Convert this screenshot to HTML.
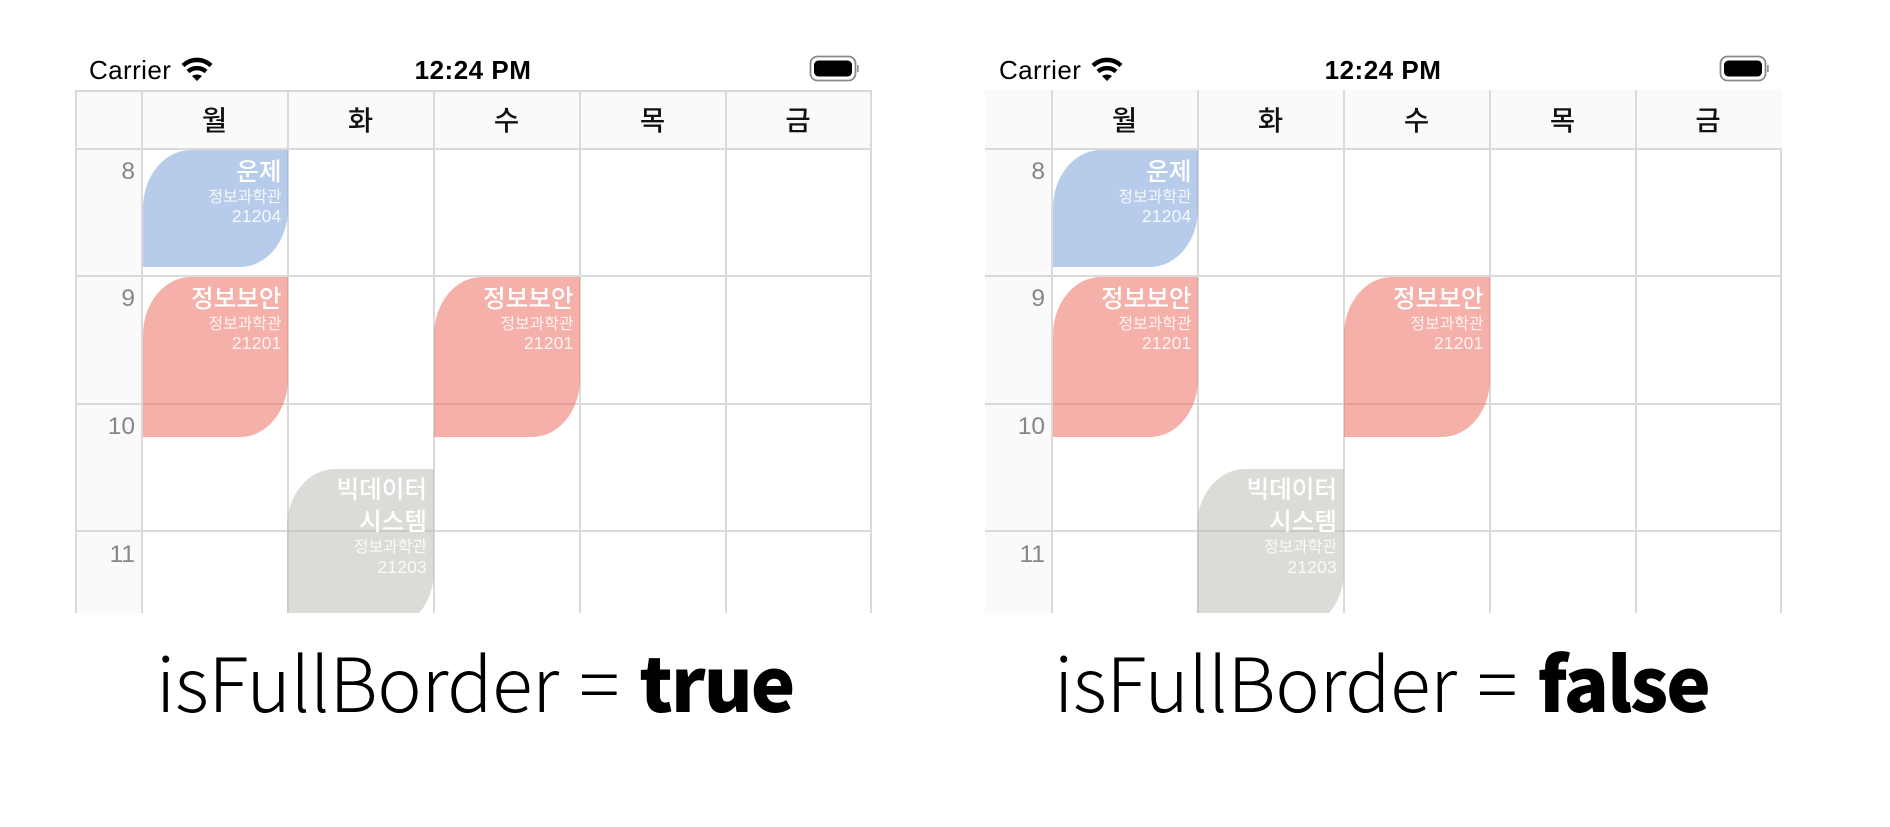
<!DOCTYPE html>
<html lang="ko">
<head>
<meta charset="utf-8">
<title>isFullBorder comparison</title>
<style>
html,body{margin:0;padding:0;background:#fff;}
#stage{position:relative;width:1890px;height:827px;overflow:hidden;background:#fff;font-family:"Liberation Sans","Noto Sans CJK KR",sans-serif;}
.panel{position:absolute;left:0;top:0;width:945px;height:827px;}
.panel.right{left:910px;}
.grid{position:absolute;left:0;top:0;width:945px;height:613px;overflow:hidden;}
.fill{position:absolute;background:#fafafa;}
.v,.h{position:absolute;background:#dadada;}
.v{width:2px;}
.h{height:2px;}
.abs{position:absolute;white-space:nowrap;}
.day{position:absolute;top:93px;width:100px;height:52px;text-align:center;font:500 27.5px/50px "Noto Sans CJK KR",sans-serif;color:#111;}
.hour{position:absolute;left:76px;width:59px;text-align:right;font:400 24.5px/28px "Liberation Sans",sans-serif;color:#868686;}
.block{position:absolute;border-radius:48px 0 48px 0 / 58px 0 58px 0;}
.blue{background:rgba(111,153,215,.5);}
.red{background:rgba(237,97,85,.5);}
.gray{background:rgba(183,185,177,.5);}
.ttl,.sub,.num{position:absolute;right:6.5px;white-space:nowrap;color:#fff;text-align:right;}
.ttl{font:500 24.6px/30px "Noto Sans CJK KR",sans-serif;}
.sub{font:400 16px/20px "Noto Sans CJK KR",sans-serif;color:rgba(255,255,255,.85);letter-spacing:-.1px;}
.num{font:400 17.5px/20px "Liberation Sans",sans-serif;color:rgba(255,255,255,.85);letter-spacing:.2px;}
.overlay{position:absolute;}
.carrier{position:absolute;left:89px;top:54px;font:400 26px/32px "Liberation Sans",sans-serif;letter-spacing:.4px;color:#000;}
.time{position:absolute;left:373px;width:200px;text-align:center;top:54px;font:700 26px/32px "Liberation Sans",sans-serif;letter-spacing:.5px;color:#000;}
.cap{position:absolute;top:625px;font:300 75px/110px "Noto Sans CJK KR",sans-serif;color:#000;white-space:nowrap;letter-spacing:-.4px;}
.cap b{font-weight:900;letter-spacing:-2px;}
</style>
</head>
<body>
<div id="stage">

<!-- LEFT PANEL -->
<div class="panel">
  <div class="carrier">Carrier</div>
  <svg class="abs" style="left:179px;top:56px" width="36" height="27" viewBox="0 0 36 27">
    <path d="M4 9.5 C12 2 24 2 32 9.5" fill="none" stroke="#000" stroke-width="4.4"/>
    <path d="M9 15.5 C14 11 22 11 27 15.5" fill="none" stroke="#000" stroke-width="4.4"/>
    <path d="M13 20 C16 18 20 18 23 20 L18 25 Z" fill="#000"/>
  </svg>
  <div class="time">12:24 PM</div>
  <svg class="abs" style="left:809px;top:55px" width="52" height="28" viewBox="0 0 52 28">
    <rect x="1.5" y="1.5" width="45" height="24" rx="7" fill="none" stroke="#8a8a8a" stroke-width="1.8"/>
    <rect x="5" y="5.5" width="38" height="16" rx="4.5" fill="#000"/>
    <rect x="48" y="10" width="1.8" height="7" fill="#9a9a9a"/>
  </svg>

  <div class="grid">
    <div class="fill" style="left:76px;top:91px;width:795px;height:57px"></div>
    <div class="fill" style="left:76px;top:148px;width:66px;height:465px"></div>

    <div class="h" style="left:75px;top:90px;width:797px"></div>
    <div class="h" style="left:75px;top:147.5px;width:797px"></div>
    <div class="h" style="left:75px;top:275px;width:797px"></div>
    <div class="h" style="left:75px;top:402.5px;width:797px"></div>
    <div class="h" style="left:75px;top:530px;width:797px"></div>
    <div class="v" style="left:75px;top:90px;height:523px"></div>
    <div class="v" style="left:141px;top:90px;height:523px"></div>
    <div class="v" style="left:286.7px;top:90px;height:523px"></div>
    <div class="v" style="left:432.5px;top:90px;height:523px"></div>
    <div class="v" style="left:579px;top:90px;height:523px"></div>
    <div class="v" style="left:725px;top:90px;height:523px"></div>
    <div class="v" style="left:870px;top:90px;height:523px"></div>

    <div class="day" style="left:164.5px">월</div>
    <div class="day" style="left:310.5px">화</div>
    <div class="day" style="left:456.5px">수</div>
    <div class="day" style="left:602.5px">목</div>
    <div class="day" style="left:748px">금</div>

    <div class="hour" style="top:158px">8</div>
    <div class="hour" style="top:285px">9</div>
    <div class="hour" style="top:413px">10</div>
    <div class="hour" style="top:541px">11</div>

    <div class="block blue" style="left:143px;top:150px;width:145px;height:117px"></div>
    <div class="block red" style="left:143px;top:277px;width:145px;height:160px"></div>
    <div class="block red" style="left:434px;top:277px;width:146px;height:160px"></div>
    <div class="block gray" style="left:287px;top:469px;width:147px;height:160px"></div>

    <div class="overlay" style="left:143px;top:150px;width:145px;height:117px">
      <div class="ttl" style="top:5px">운제</div>
      <div class="sub" style="top:34.5px">정보과학관</div>
      <div class="num" style="top:56px">21204</div>
    </div>
    <div class="overlay" style="left:143px;top:277px;width:145px;height:160px">
      <div class="ttl" style="top:5px">정보보안</div>
      <div class="sub" style="top:34.5px">정보과학관</div>
      <div class="num" style="top:56px">21201</div>
    </div>
    <div class="overlay" style="left:434px;top:277px;width:146px;height:160px">
      <div class="ttl" style="top:5px">정보보안</div>
      <div class="sub" style="top:34.5px">정보과학관</div>
      <div class="num" style="top:56px">21201</div>
    </div>
    <div class="overlay" style="left:287px;top:469px;width:146.5px;height:160px">
      <div class="ttl" style="top:3.5px">빅데이터</div>
      <div class="ttl" style="top:35.5px">시스템</div>
      <div class="sub" style="top:66px">정보과학관</div>
      <div class="num" style="top:88px">21203</div>
    </div>
  </div>

  <div class="cap" style="left:156px">isFullBorder = <b>true</b></div>
</div>

<!-- RIGHT PANEL -->
<div class="panel right">
  <div class="carrier">Carrier</div>
  <svg class="abs" style="left:179px;top:56px" width="36" height="27" viewBox="0 0 36 27">
    <path d="M4 9.5 C12 2 24 2 32 9.5" fill="none" stroke="#000" stroke-width="4.4"/>
    <path d="M9 15.5 C14 11 22 11 27 15.5" fill="none" stroke="#000" stroke-width="4.4"/>
    <path d="M13 20 C16 18 20 18 23 20 L18 25 Z" fill="#000"/>
  </svg>
  <div class="time">12:24 PM</div>
  <svg class="abs" style="left:809px;top:55px" width="52" height="28" viewBox="0 0 52 28">
    <rect x="1.5" y="1.5" width="45" height="24" rx="7" fill="none" stroke="#8a8a8a" stroke-width="1.8"/>
    <rect x="5" y="5.5" width="38" height="16" rx="4.5" fill="#000"/>
    <rect x="48" y="10" width="1.8" height="7" fill="#9a9a9a"/>
  </svg>

  <div class="grid">
    <div class="fill" style="left:75px;top:90px;width:797px;height:58px"></div>
    <div class="fill" style="left:75px;top:148px;width:67px;height:465px"></div>

    <div class="h" style="left:75px;top:147.5px;width:797px"></div>
    <div class="h" style="left:75px;top:275px;width:797px"></div>
    <div class="h" style="left:75px;top:402.5px;width:797px"></div>
    <div class="h" style="left:75px;top:530px;width:797px"></div>
    <div class="v" style="left:141px;top:90px;height:523px"></div>
    <div class="v" style="left:286.7px;top:90px;height:523px"></div>
    <div class="v" style="left:432.5px;top:90px;height:523px"></div>
    <div class="v" style="left:579px;top:90px;height:523px"></div>
    <div class="v" style="left:725px;top:90px;height:523px"></div>
    <div class="v" style="left:870px;top:148px;height:465px"></div>

    <div class="day" style="left:164.5px">월</div>
    <div class="day" style="left:310.5px">화</div>
    <div class="day" style="left:456.5px">수</div>
    <div class="day" style="left:602.5px">목</div>
    <div class="day" style="left:748px">금</div>

    <div class="hour" style="top:158px">8</div>
    <div class="hour" style="top:285px">9</div>
    <div class="hour" style="top:413px">10</div>
    <div class="hour" style="top:541px">11</div>

    <div class="block blue" style="left:143px;top:150px;width:145px;height:117px"></div>
    <div class="block red" style="left:143px;top:277px;width:145px;height:160px"></div>
    <div class="block red" style="left:434px;top:277px;width:146px;height:160px"></div>
    <div class="block gray" style="left:287px;top:469px;width:147px;height:160px"></div>

    <div class="overlay" style="left:143px;top:150px;width:145px;height:117px">
      <div class="ttl" style="top:5px">운제</div>
      <div class="sub" style="top:34.5px">정보과학관</div>
      <div class="num" style="top:56px">21204</div>
    </div>
    <div class="overlay" style="left:143px;top:277px;width:145px;height:160px">
      <div class="ttl" style="top:5px">정보보안</div>
      <div class="sub" style="top:34.5px">정보과학관</div>
      <div class="num" style="top:56px">21201</div>
    </div>
    <div class="overlay" style="left:434px;top:277px;width:146px;height:160px">
      <div class="ttl" style="top:5px">정보보안</div>
      <div class="sub" style="top:34.5px">정보과학관</div>
      <div class="num" style="top:56px">21201</div>
    </div>
    <div class="overlay" style="left:287px;top:469px;width:146.5px;height:160px">
      <div class="ttl" style="top:3.5px">빅데이터</div>
      <div class="ttl" style="top:35.5px">시스템</div>
      <div class="sub" style="top:66px">정보과학관</div>
      <div class="num" style="top:88px">21203</div>
    </div>
  </div>

  <div class="cap" style="left:144px">isFullBorder = <b>false</b></div>
</div>

</div>
</body>
</html>
